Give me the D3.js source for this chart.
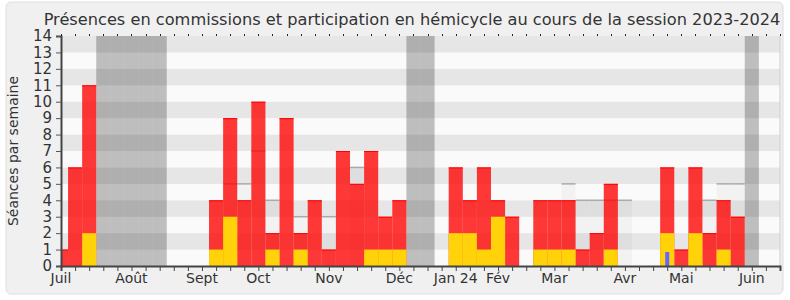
<!DOCTYPE html>
<html>
<head>
<meta charset="utf-8">
<script src="https://d3js.org/d3.v7.min.js"></script>
<style>
  body { margin: 0; background: #fff; }
  svg { display: block; font-family: "DejaVu Sans", Verdana, sans-serif; }
</style>
</head>
<body>
<svg id="chart" width="790" height="300"></svg>
<script>
// une valeur par semaine, de juillet 2023 à juin 2024
const presences = [1, 6, 11, 0, 0, 0, 0, 0, 0, 0, 0, 4, 9, 4, 10, 2, 9, 2, 4, 1,
  7, 5, 7, 3, 4, 0, 0, 0, 6, 4, 6, 4, 3, 0, 4, 4, 4, 1, 2, 5,
  0, 0, 0, 6, 1, 6, 2, 4, 3, 0, 0];
const participations = [0, 0, 2, 0, 0, 0, 0, 0, 0, 0, 0, 1, 3, 0, 0, 1, 0, 1, 0, 0,
  0, 0, 1, 1, 1, 0, 0, 0, 2, 2, 1, 3, 0, 0, 1, 1, 1, 0, 0, 1,
  0, 0, 0, 2, 0, 2, 0, 1, 0, 0, 0];
const questions = [0, 0, 0, 0, 0, 0, 0, 0, 0, 0, 0, 0, 0, 0, 0, 0, 0, 0, 0, 0,
  0, 0, 0, 0, 0, 0, 0, 0, 0, 0, 0, 0, 0, 0, 0, 0, 0, 0, 0, 0,
  0, 0, 0, 0.85, 0, 0, 0, 0, 0, 0, 0];
const mediane = [null, null, null, null, null, null, null, null, null, null, null, null, 5, 5, 7, 4, null, 3, null, 3,
  null, 6, null, null, null, null, null, null, null, null, null, null, null, null, null, null, 5, 4, 4, 4,
  4, null, null, null, null, null, 4, 5, 5, null, null];
const vacances = [3, 4, 5, 6, 7, 25, 26, 49];
const mois = ["Juil", "Août", "Sept", "Oct", "Nov", "Déc", "Jan 24", "Fév", "Mar", "Avr", "Mai", "Juin"];
const moisSemaine = [0, 5, 10, 14, 19, 24, 28, 31, 35, 40, 44, 49];
const yTicks = [0, 1, 2, 3, 4, 5, 6, 7, 8, 9, 10, 11, 12, 13, 14];

const svg = d3.select("#chart");
const plotLeft = 61, plotRight = 780, plotTop = 36, plotBottom = 266;

const x = d3.scaleLinear().domain([0, 51]).range([plotLeft, plotRight]);
const y = d3.scaleLinear().domain([0, 14]).range([plotBottom, plotTop]);
const w = x(1) - x(0);

// cadre
svg.append("rect")
  .attr("x", 6).attr("y", 2)
  .attr("width", 777).attr("height", 292)
  .attr("rx", 5)
  .attr("fill", "#f0f0f0")
  .attr("stroke", "#dedede");

svg.append("text")
  .attr("x", 412).attr("y", 25)
  .attr("text-anchor", "middle")
  .attr("font-size", 16.2)
  .attr("fill", "#333")
  .text("Présences en commissions et participation en hémicycle au cours de la session 2023-2024");

svg.append("clipPath").attr("id", "plot")
  .append("rect")
  .attr("x", plotLeft).attr("y", plotTop)
  .attr("width", plotRight - plotLeft).attr("height", plotBottom - plotTop);

const plot = svg.append("g").attr("clip-path", "url(#plot)");

// bandes horizontales
plot.selectAll(".bande")
  .data(yTicks.slice(0, -1))
  .join("rect")
  .attr("x", plotLeft).attr("width", plotRight - plotLeft)
  .attr("y", d => y(d + 1))
  .attr("height", d => y(d) - y(d + 1))
  .attr("fill", d => d % 2 ? "#e6e6e6" : "#fafafa");

// semaines de vacances
plot.selectAll(".vac")
  .data(vacances)
  .join("rect")
  .attr("x", d => x(d) - w / 2).attr("width", w)
  .attr("y", plotTop).attr("height", plotBottom - plotTop)
  .attr("fill", "#000")
  .attr("fill-opacity", 0.24);

const med = mediane.map((v, i) => ({ i, v })).filter(d => d.v !== null);

plot.selectAll(".med")
  .data(med)
  .join("rect")
  .attr("x", d => x(d.i) - w / 2).attr("width", w)
  .attr("y", d => y(d.v)).attr("height", d => plotBottom - y(d.v))
  .attr("fill", "#000")
  .attr("fill-opacity", 0.03);

plot.selectAll(".medLine")
  .data(med)
  .join("line")
  .attr("x1", d => x(d.i) - w / 2).attr("x2", d => x(d.i) + w / 2)
  .attr("y1", d => y(d.v)).attr("y2", d => y(d.v))
  .attr("stroke", "#aaa")
  .attr("stroke-width", 1.5);

const pres = presences.map((v, i) => ({ i, v })).filter(d => d.v > 0);

plot.selectAll(".pres")
  .data(pres)
  .join("rect")
  .attr("x", d => x(d.i) - w / 2).attr("width", w)
  .attr("y", d => y(d.v)).attr("height", d => plotBottom - y(d.v))
  .attr("fill", "#ff0000")
  .attr("fill-opacity", 0.78);

plot.selectAll(".presTop")
  .data(pres)
  .join("line")
  .attr("x1", d => x(d.i) - w / 2).attr("x2", d => x(d.i) + w / 2)
  .attr("y1", d => y(d.v) + 0.5).attr("y2", d => y(d.v) + 0.5)
  .attr("stroke", "#ff0000");

plot.selectAll(".part")
  .data(participations.map((v, i) => ({ i, v })).filter(d => d.v > 0))
  .join("rect")
  .attr("x", d => x(d.i) - w / 2).attr("width", w)
  .attr("y", d => y(d.v)).attr("height", d => plotBottom - y(d.v))
  .attr("fill", "#ffd20a");

plot.selectAll(".quest")
  .data(questions.map((v, i) => ({ i, v })).filter(d => d.v > 0))
  .join("rect")
  .attr("x", d => x(d.i) - 2).attr("width", 4)
  .attr("y", d => y(d.v)).attr("height", d => plotBottom - y(d.v))
  .attr("fill", "#6666ff");

// axes
svg.append("line")
  .attr("x1", plotRight).attr("x2", plotRight)
  .attr("y1", plotTop).attr("y2", plotBottom)
  .attr("stroke", "#cfcfcf");

const yAxis = svg.append("g")
  .attr("transform", `translate(${plotLeft},0)`)
  .call(d3.axisLeft(y).tickValues(yTicks).tickSize(5).tickPadding(4).tickFormat(d3.format("d")));
yAxis.select(".domain").attr("stroke", "#444").attr("stroke-width", 2);
yAxis.selectAll(".tick line").attr("stroke", "#555");
yAxis.selectAll("text")
  .attr("font-size", 15).attr("fill", "#333")
  .attr("font-family", "DejaVu Sans, sans-serif");

const semaines = d3.range(52);
const xAxis = svg.append("g")
  .attr("transform", `translate(0,${plotBottom})`)
  .call(d3.axisBottom(x).tickValues(semaines).tickSize(5).tickFormat(""));
xAxis.select(".domain").attr("stroke", "#444").attr("stroke-width", 2);
xAxis.selectAll(".tick line").attr("stroke", "#444");

svg.append("g")
  .selectAll("text")
  .data(mois)
  .join("text")
  .attr("x", (d, i) => x(moisSemaine[i]))
  .attr("y", 283)
  .attr("text-anchor", "middle")
  .attr("font-size", 14)
  .attr("fill", "#333")
  .text(d => d);

// petits points en haut
svg.append("g")
  .selectAll("rect")
  .data(semaines)
  .join("rect")
  .attr("x", d => Math.round(x(d)))
  .attr("y", 34)
  .attr("width", 1).attr("height", 2)
  .attr("fill", "#222");

svg.append("text")
  .attr("transform", `translate(18,${(plotTop + plotBottom) / 2}) rotate(-90)`)
  .attr("text-anchor", "middle")
  .attr("font-size", 14)
  .attr("fill", "#333")
  .text("Séances par semaine");
</script>
</body>
</html>
